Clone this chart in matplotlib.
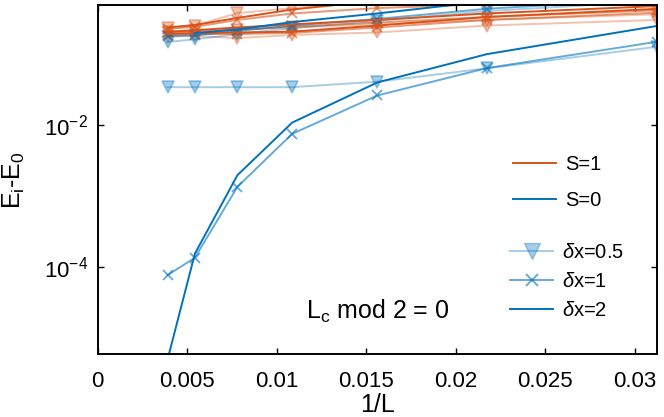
import numpy as np
import matplotlib
matplotlib.use("Agg")
import matplotlib.pyplot as plt
from matplotlib.lines import Line2D
from matplotlib.ticker import NullLocator

# Helvetica-like look
plt.rcParams["font.family"] = "Liberation Sans"
plt.rcParams["font.size"] = 15
plt.rcParams["mathtext.fontset"] = "custom"
plt.rcParams["mathtext.rm"] = "Liberation Sans"
plt.rcParams["mathtext.it"] = "Liberation Sans:italic"

# =====================================================
# DATA
# =====================================================

L = np.array([256, 184, 128, 92, 64, 46, 32])

# S=0 gaps, one row per state
s0_dx05 = [[0.034, 0.034, 0.034, 0.034, 0.0406, 0.0625, 0.126],
           [0.147, 0.16, 0.19, 0.23, 0.29, 0.40, 0.55]]
s0_dx1 = [[7.7e-5, 1.36e-4, 1.35e-3, 7.5e-3, 0.026, 0.063, 0.148],
          [0.178, 0.182, 0.21, 0.25, 0.31, 0.43, 0.6]]
s0_dx2 = [[5e-6, 1.55e-4, 1.97e-3, 0.0108, 0.0396, 0.099, 0.247],
          [np.nan, 0.196, 0.22, 0.28, 0.37, 0.55, 0.7]]

# S=1 gaps
s1_dx05 = [[0.23, 0.25, 0.374, 0.44, 0.55, 0.7, 0.9],
           [0.2, 0.21, 0.22, 0.235, 0.26, 0.3, 0.36],
           [0.175, 0.178, 0.167, 0.184, 0.2, 0.25, 0.3]]
s1_dx1 = [[0.225, 0.24, 0.3, 0.37, 0.44, 0.5, 0.62],
          [0.2, 0.205, 0.22, 0.24, 0.275, 0.33, 0.41],
          [0.186, 0.19, 0.19, 0.197, 0.235, 0.3, 0.38]]
s1_dx2 = [[0.235, 0.255, 0.32, 0.42, 0.56, 0.75, 1.0],
          [0.205, 0.215, 0.235, 0.26, 0.3, 0.37, 0.47],
          [0.19, 0.195, 0.2, 0.205, 0.25, 0.33, 0.43]]

x_ticks = [0, 0.005, 0.01, 0.015, 0.02, 0.025, 0.03]
x_tick_labels = ["0", "0.005", "0.01", "0.015", "0.02", "0.025", "0.03"]

BLUE = "#0072BD"
ORANGE = "#D95319"

# style per dx: (alpha, marker, markersize)
dx_styles = {
    0.5: (0.35, "v", 8.5),
    1: (0.6, "x", 6.5),
    2: (1.0, "None", 0),
}

# =====================================================
# PLOT
# =====================================================

fig = plt.figure(figsize=(6.64, 4.17), dpi=100)
ax = fig.add_axes([0.147, 0.151, 0.8425, 0.836])

x = 1.0 / L

for dx, s1_rows, s0_rows in [(0.5, s1_dx05, s0_dx05), (1, s1_dx1, s0_dx1), (2, s1_dx2, s0_dx2)]:
    alpha, marker, ms = dx_styles[dx]
    for row in s1_rows:
        ax.plot(x, row, color=ORANGE, alpha=alpha, marker=marker, markersize=ms,
                markeredgewidth=1.3, linewidth=1.4)
    for row in s0_rows:
        ax.plot(x, row, color=BLUE, alpha=alpha, marker=marker, markersize=ms,
                markeredgewidth=1.3, linewidth=1.4)

ax.set_yscale("log")
ax.set_xlim(0, 1 / 32)
ax.set_ylim(6e-6, 0.48)

ax.set_xticks(x_ticks)
ax.set_xticklabels(x_tick_labels)
ax.set_yticks([1e-4, 1e-2])
ax.set_yticklabels([r"$\mathregular{10^{-4}}$", r"$\mathregular{10^{-2}}$"])
ax.yaxis.set_minor_locator(NullLocator())

ax.tick_params(direction="in", top=True, right=True, length=4, width=1, labelsize=16)
ax.tick_params(axis="x", pad=12)
ax.tick_params(axis="y", pad=7)
for sp in ax.spines.values():
    sp.set_linewidth(1.4)

ax.set_xlabel("1/L", fontsize=18, labelpad=1)
ax.set_ylabel(r"E$_\mathregular{i}$-E$_\mathregular{0}$", fontsize=18, labelpad=12)

ax.text(0.50, 0.123, r"L$_\mathregular{c}$ mod 2 = 0", transform=ax.transAxes,
        ha="center", va="center", fontsize=18)

# legends: spin, then dx
h_spin = [Line2D([], [], color=ORANGE, linewidth=1.4),
          Line2D([], [], color=BLUE, linewidth=1.4)]
leg1 = ax.legend(h_spin, ["S=1", "S=0"], loc="upper left", bbox_to_anchor=(0.725, 0.600),
                 frameon=False, fontsize=14.5, borderpad=0, handlelength=2.1,
                 handletextpad=0.5, labelspacing=0.85)
ax.add_artist(leg1)

h_dx = [Line2D([], [], color=BLUE, alpha=0.35, marker="v", markersize=12, linewidth=1.4),
        Line2D([], [], color=BLUE, alpha=0.6, marker="x", markersize=9, markeredgewidth=1.4, linewidth=1.4),
        Line2D([], [], color=BLUE, linewidth=1.4)]
ax.legend(h_dx, [r"$\delta$x=0.5", r"$\delta$x=1", r"$\delta$x=2"], loc="upper left",
          bbox_to_anchor=(0.72, 0.347), frameon=False, fontsize=14.5, borderpad=0,
          handlelength=2.1, handletextpad=0.45, labelspacing=0.5)

fig.savefig("out.png", dpi=100)
